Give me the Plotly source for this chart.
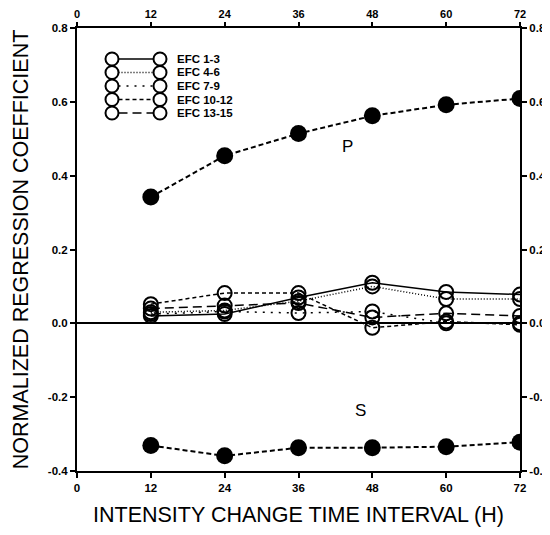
import plotly.graph_objects as go

hours = [12, 24, 36, 48, 60, 72]
p_vals = [0.342, 0.454, 0.514, 0.562, 0.592, 0.609]
s_vals = [-0.331, -0.359, -0.337, -0.337, -0.334, -0.322]
efc_1_3 = [0.020, 0.025, 0.070, 0.110, 0.085, 0.078]
efc_4_6 = [0.030, 0.035, 0.060, 0.100, 0.066, 0.066]
efc_7_9 = [0.025, 0.032, 0.028, 0.032, 0.000, 0.000]
efc_10_12 = [0.052, 0.082, 0.082, -0.012, 0.005, -0.004]
efc_13_15 = [0.040, 0.048, 0.055, 0.016, 0.027, 0.020]
efc_names = ["EFC 1-3", "EFC 4-6", "EFC 7-9", "EFC 10-12", "EFC 13-15"]
x_ticks = [0, 12, 24, 36, 48, 60, 72]
y_ticks = [-0.4, -0.2, 0.0, 0.2, 0.4, 0.6, 0.8]
y_tick_labels = ["-0.4", "-0.2", "0.0", "0.2", "0.4", "0.6", "0.8"]

FONT = "Liberation Sans, Arial, sans-serif"
fig = go.Figure()

efc_vals = [efc_1_3, efc_4_6, efc_7_9, efc_10_12, efc_13_15]
dashes = ["solid", "1px,2px", "2px,6px", "4px,3px", "9px,5px"]
for name, vals, dash in zip(efc_names, efc_vals, dashes):
    fig.add_trace(go.Scatter(
        x=hours, y=vals, name=name, mode="lines+markers", showlegend=False,
        line=dict(color="black", width=1.5, dash=dash),
        marker=dict(symbol="circle-open", size=14, color="black", line=dict(width=2)),
    ))

for vals in (p_vals, s_vals):
    fig.add_trace(go.Scatter(
        x=hours, y=vals, mode="lines+markers", showlegend=False,
        line=dict(color="black", width=2, dash="5px,3px"),
        marker=dict(symbol="circle", size=17, color="black"),
    ))

# invisible trace to activate secondary axes
fig.add_trace(go.Scatter(x=[0, 72], y=[-0.4, 0.8], xaxis="x2", yaxis="y2",
                         mode="markers", marker=dict(opacity=0), showlegend=False,
                         hoverinfo="skip"))

fig.add_annotation(x=44, y=0.48, text="P", showarrow=False,
                   font=dict(family=FONT, size=17, color="black"))
fig.add_annotation(x=46, y=-0.235, text="S", showarrow=False,
                   font=dict(family=FONT, size=17, color="black"))

# manual legend (circle - line - circle, as in the original key)
PW = 443.0  # plot area size in px (square)
X0, Y1 = 77, 471  # plot area left / bottom in window px
r = 6.5 / PW
xl, xr = (112 - X0) / PW, (160 - X0) / PW
for i, (name, dash) in enumerate(zip(efc_names, dashes)):
    yc = (Y1 - (59 + 13.5 * i)) / PW
    for xc in (xl, xr):
        fig.add_shape(type="circle", xref="paper", yref="paper",
                      x0=xc - r, x1=xc + r, y0=yc - r, y1=yc + r,
                      line=dict(color="black", width=2), fillcolor="white")
    fig.add_shape(type="line", xref="paper", yref="paper",
                  x0=xl + r, x1=xr - r, y0=yc, y1=yc,
                  line=dict(color="black", width=1.5, dash=dash))
    fig.add_annotation(xref="paper", yref="paper", x=(175 - X0) / PW, y=yc,
                       xanchor="left", yanchor="middle", showarrow=False,
                       text=name,
                       font=dict(family=FONT, size=11.5, color="black", weight="bold"))

tickfont = dict(family=FONT, size=11.5, color="black", weight="bold")
common = dict(showgrid=False, showline=True, linecolor="black", linewidth=2,
              ticks="outside", ticklen=5, tickwidth=1.5, tickcolor="black",
              tickfont=tickfont, automargin=False)
top = dict(common, ticklen=4, tickfont=dict(tickfont, size=11))

fig.update_layout(
    width=542, height=519,
    margin=dict(l=69, r=30, t=20, b=56),
    paper_bgcolor="white", plot_bgcolor="white",
    font=dict(family=FONT, color="black"),
    xaxis=dict(range=[0, 72], tickvals=x_ticks, zeroline=False,
               title=dict(text="INTENSITY CHANGE TIME INTERVAL (H)",
                          font=dict(family=FONT, size=21.5), standoff=14),
               **common),
    yaxis=dict(range=[-0.4, 0.8], tickvals=y_ticks, ticktext=y_tick_labels,
               zeroline=True, zerolinecolor="black", zerolinewidth=1.5,
               title=dict(text="NORMALIZED REGRESSION COEFFICIENT",
                          font=dict(family=FONT, size=21.5), standoff=13),
               **common),
    xaxis2=dict(range=[0, 72], tickvals=x_ticks, overlaying="x", side="top",
                zeroline=False, **top),
    yaxis2=dict(range=[-0.4, 0.8], tickvals=y_ticks, ticktext=y_tick_labels,
                overlaying="y", side="right", zeroline=False, **common),
    showlegend=False,
)

fig.write_html("out.html")
